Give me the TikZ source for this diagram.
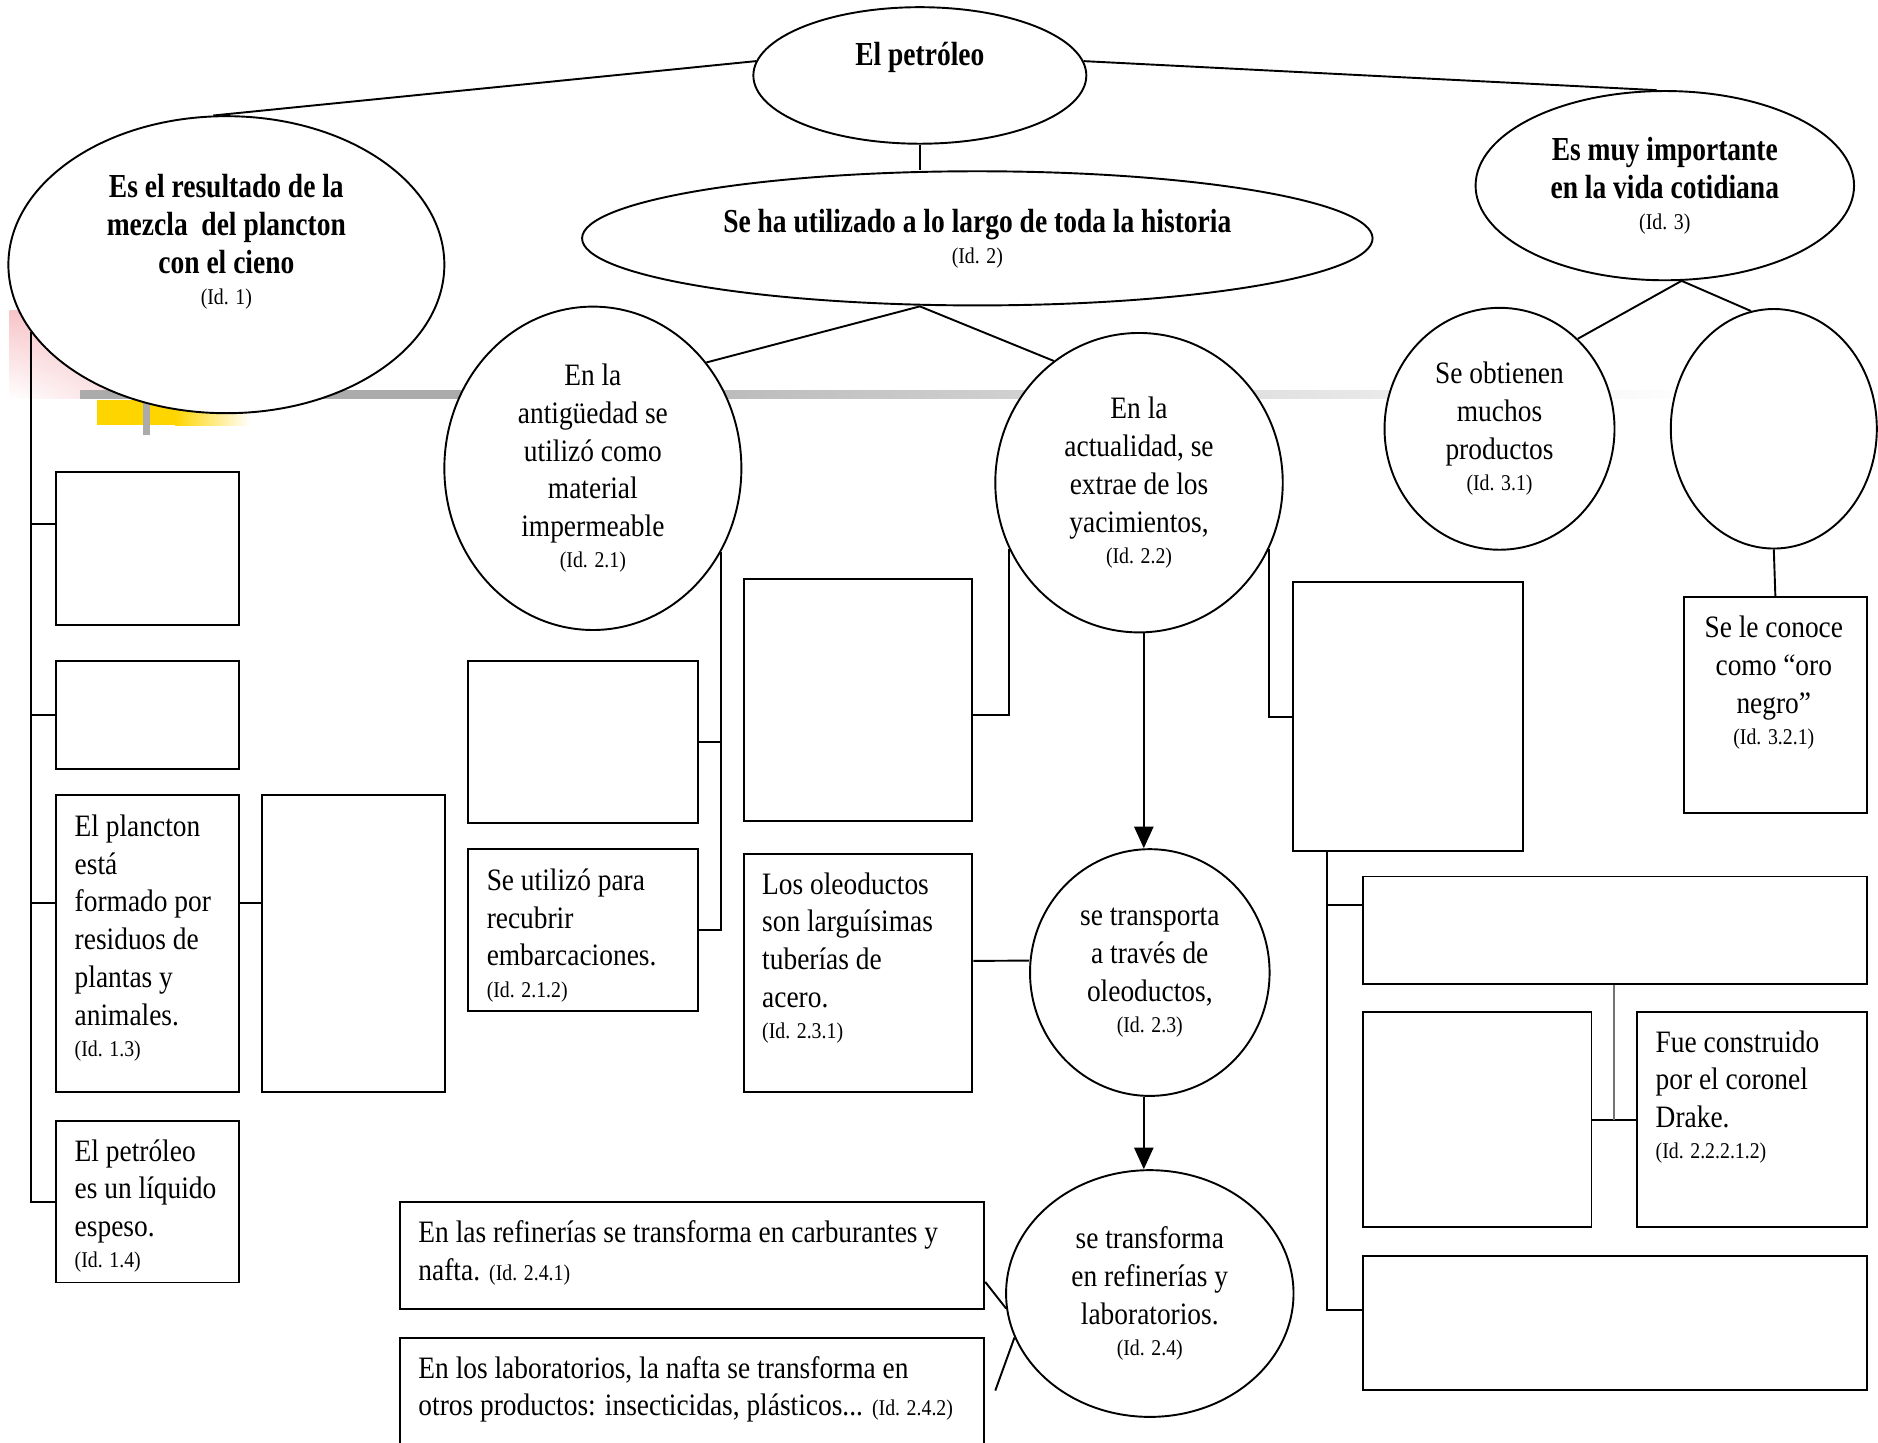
\documentclass[tikz,border=0pt]{standalone}
\usepackage{fontspec}
\newfontfamily\bodyfont{Liberation Serif}[FakeStretch=0.88]
\newfontfamily\headfont{Liberation Serif}[FakeStretch=0.82]
\usetikzlibrary{shapes.geometric,arrows.meta,calc,shadings}
\definecolor{barGrey}{HTML}{ABABAB}
\definecolor{slidePink}{HTML}{F7C4C8}
\definecolor{slideGold}{HTML}{FFD500}
\newcommand{\idno}[1]{{\bodyfont\mdseries\fontsize{9.4}{11}\selectfont (Id. #1)}}
\tikzset{
    oval/.style={draw, ellipse, fill=white, line width=0.8pt, inner sep=0pt},
    box/.style={draw, rectangle, fill=white, line width=0.8pt, inner sep=0pt, anchor=north west},
    txt/.style={align=left, anchor=north west, inner sep=0pt, font=\bodyfont\fontsize{13}{15.75}\selectfont},
    ctxt/.style={align=center, inner sep=0pt, font=\bodyfont\fontsize{13}{15.75}\selectfont},
    head/.style={align=center, inner sep=0pt, font=\headfont\bfseries\fontsize{14}{15.75}\selectfont},
    link/.style={line width=0.8pt},
    arr/.style={line width=0.8pt, -{Triangle[length=9pt,width=8pt]}}
}

\begin{document}
\begin{tikzpicture}[x=0.5pt, y=-0.5pt]
    \useasboundingbox (0,0) rectangle (1568,1204);

    % slide decoration behind the map
    \shade[upper left=slidePink, upper right=slidePink, lower left=white, lower right=slidePink!60] (8,259) rectangle (110,333);
    \fill[barGrey] (67,326) rectangle (400,333);
    \shade[left color=barGrey, right color=white] (400,326) rectangle (1420,333);
    \fill[slideGold] (81,334) rectangle (146,355);
    \shade[left color=slideGold, right color=white] (146,334) rectangle (209,355);
    \fill[barGrey] (119,334) rectangle (125,363);

    % ovals
    \node[oval, minimum width=139pt, minimum height=57pt] (top) at (768,63) {};
    \node[head] (topt) at (768,48) {El petróleo};
    \node[oval, minimum width=182pt, minimum height=124pt] (e1) at (189,221) {};
    \node[head] (e1t) at (189,202) {Es el resultado de la\\ mezcla~ del plancton\\ con el cieno\\[-2.75pt] \idno{1}};
    \node[oval, head, minimum width=330pt, minimum height=56pt] (e2) at (816,199) {Se ha utilizado a lo largo de toda la historia\\[-2.75pt] \idno{2}};
    \node[oval, head, minimum width=158pt, minimum height=79pt] (e3) at (1390,155) {Es muy importante\\ en la vida cotidiana\\[-2.75pt] \idno{3}};

    \node[oval, ctxt, minimum width=124pt, minimum height=135pt] (c21) at (495,391) {En la\\ antigüedad se\\ utilizó como\\ material\\ impermeable\\[-2.75pt] \idno{2.1}};
    \node[oval, ctxt, minimum width=120pt, minimum height=125pt] (c22) at (951,403) {En la\\ actualidad, se\\ extrae de los\\ yacimientos,\\[-2.75pt] \idno{2.2}};
    \node[oval, ctxt, minimum width=96pt, minimum height=101pt] (c31) at (1252,358) {Se obtienen\\ muchos\\ productos\\[-2.75pt] \idno{3.1}};
    \node[oval, minimum width=86pt, minimum height=100pt] (c32) at (1481,358) {};
    \node[oval, ctxt, minimum width=100pt, minimum height=103pt] (c23) at (960,812) {se transporta\\ a través de\\ oleoductos,\\[-2.75pt] \idno{2.3}};
    \node[oval, ctxt, minimum width=120pt, minimum height=103pt] (c24) at (960,1080) {se transforma\\ en refinerías y\\ laboratorios.\\[-2.75pt] \idno{2.4}};

    % boxes
    \node[box, minimum width=76.5pt, minimum height=64pt] (b11) at (46,393) {};
    \node[box, minimum width=76.5pt, minimum height=45pt] (b12) at (46,551) {};
    \node[box, minimum width=76.5pt, minimum height=124pt] (b13) at (46,663) {};
    \node[box, minimum width=76.5pt, minimum height=124pt] (b13r) at (218,663) {};
    \node[box, minimum width=76.5pt, minimum height=67.5pt] (b14) at (46,935) {};
    \node[box, minimum width=96pt, minimum height=67.5pt] (b211) at (390,551) {};
    \node[box, minimum width=96pt, minimum height=67.5pt] (b212) at (390,708) {};
    \node[box, minimum width=95.5pt, minimum height=101pt] (b221) at (620,483) {};
    \node[box, minimum width=95.5pt, minimum height=99.5pt] (b231) at (620,712) {};
    \node[box, minimum width=244pt, minimum height=44.5pt] (b241) at (333,1003) {};
    \node[box, minimum width=244pt, minimum height=50pt] (b242) at (333,1116) {};
    \node[box, minimum width=96pt, minimum height=112.5pt] (b222) at (1079,485) {};
    \node[box, minimum width=210.5pt, minimum height=45pt] (r1) at (1137,731) {};
    \node[box, minimum width=95.5pt, minimum height=90pt] (r2a) at (1137,844) {};
    \node[box, minimum width=96pt, minimum height=90pt] (r2b) at (1366,844) {};
    \node[box, minimum width=210.5pt, minimum height=56pt] (r3) at (1137,1048) {};
    \node[box, minimum width=76.5pt, minimum height=90pt] (b321) at (1405,498) {};

    % box texts
    \node[txt] (t13) at (62,680) {El plancton\\ está\\ formado por\\ residuos de\\ plantas y\\ animales.\\[-2.75pt] \idno{1.3}};
    \node[txt] (t14) at (62,951) {El petróleo\\ es un líquido\\ espeso.\\[-2.75pt] \idno{1.4}};
    \node[txt] (t212) at (406,725) {Se utilizó para\\ recubrir\\ embarcaciones.\\[-2.75pt] \idno{2.1.2}};
    \node[txt] (t231) at (636,728) {Los oleoductos\\ son larguísimas\\ tuberías de\\ acero.\\[-2.75pt] \idno{2.3.1}};
    \node[txt] (t222) at (1382,860) {Fue construido\\ por el coronel\\ Drake.\\[-2.75pt] \idno{2.2.2.1.2}};
    \node[ctxt, anchor=north] (t321) at (1481,514) {Se le conoce\\ como “oro\\ negro”\\[-2.75pt] \idno{3.2.1}};
    \node[txt] (t241) at (349,1019) {En las refinerías se transforma en carburantes y\\ nafta. \idno{2.4.1}};
    \node[txt] (t242) at (349,1132) {En los laboratorios, la nafta se transforma en\\ otros productos: insecticidas, plásticos... \idno{2.4.2}};

    % top level
    \draw[link] (top.175) -- (e1.95);
    \draw[link] (top.5) -- (e3.95);
    \draw[link] (top.south) -- (top.south |- e2.north);
    \coordinate (e2b) at (e2.south -| top.south);
    \draw[link] (c21.43) -- (e2b) -- (c22.125);
    \draw[link] (c31.49) -- (e3.280) -- (c32.101);
    \draw[link] (c32.south) -- (b321.north);

    % left branch
    \coordinate (lt) at (e1.199);
    \draw[link] ([yshift=10pt]b11.west) -| (lt);
    \draw[link] (b12.west) -| (lt);
    \draw[link] ([yshift=17pt]b13.west) -| (lt);
    \draw[link] (b14.west) -| (lt);
    \draw[link] ([yshift=17pt]b13.east) -- ([yshift=17pt]b13r.west);

    % middle branch
    \draw[link] (c21.-33) |- (b212.east);
    \draw[link] (b211.east) -| (c21.-33);
    \draw[link] (c22.207) |- ([yshift=-6pt]b221.east);
    \draw[link] (c22.-27) |- (b222.west);
    \draw[arr] ([xshift=2pt]c22.south) -- ([xshift=2pt]c22.south |- c23.north);
    \draw[arr] ([xshift=-2.5pt]c23.south) -- ([xshift=-2.5pt]c23.south |- c24.north);
    \draw[link] ([yshift=5pt]b231.east) -- ([yshift=5pt]c23.west);
    \draw[link] ([yshift=-11pt]b241.east) -- (c24.186);
    \coordinate (c24end) at (831,1161);
    \draw[link] (c24.198) -- (c24end);

    % right branch
    \coordinate (rt) at ([xshift=14.5pt]b222.south west);
    \draw[link] (rt) |- ([yshift=5.5pt]r3.west);
    \draw[link] ([yshift=10.5pt]r1.west) -| (rt);
    \coordinate (rj) at ($(r2a.east)!0.5!(r2b.west)$);
    \draw[link] (r2a.east) -- (r2b.west);
    \draw[link, draw=black!55] (rj |- r1.south) -- (rj);
\end{tikzpicture}
\end{document}
